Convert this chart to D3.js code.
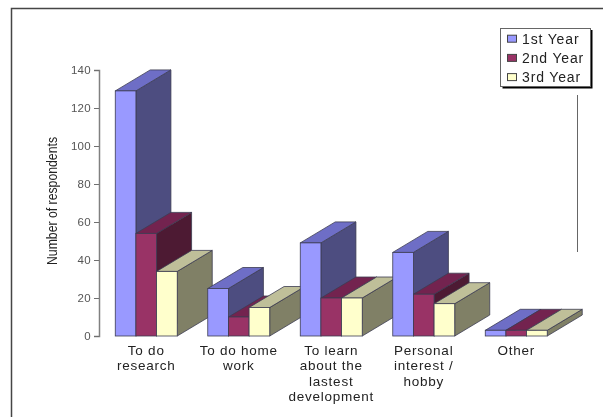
<!DOCTYPE html>
<html><head><meta charset="utf-8">
<script src="https://cdn.jsdelivr.net/npm/d3@7"></script>
<style>html,body{margin:0;padding:0;background:#fff}svg{display:block;font-family:"Liberation Sans",Arial,sans-serif;filter:blur(0.4px)}</style>
</head><body><svg id="c" width="603" height="417"></svg>
<script>
const categories = [["To do","research"],["To do home","work"],["To learn","about the","lastest","development"],["Personal","interest /","hobby"],["Other"]];
const seriesNames = ["1st Year","2nd Year","3rd Year"];
const year1 = [129,25,49,44,3];
const year2 = [54,10,20,22,3];
const year3 = [34,15,20,17,3];
const yTicks = [0,20,40,60,80,100,120,140];
const yTitle = "Number of respondents";
const faceColors = ["#9999ff","#993366","#ffffcc"];
const topColors = ["#6e6ec6","#73234f","#bfbf99"];
const sideColors = ["#4d4d80","#4d1a33","#808066"];

const svg = d3.select("#c");
const x0 = d3.scaleBand().domain(d3.range(categories.length)).range([100,562.5]).paddingInner(0.33).paddingOuter(0.165);
const x1 = d3.scaleBand().domain(d3.range(seriesNames.length)).range([0,x0.bandwidth()]);
const y = d3.scaleLinear().domain([0,140]).range([336,70]);
const depthX = 35, depthY = -21;

// frame
svg.append("path").attr("d","M11.5,417V8.5H603").attr("fill","none").attr("stroke","#454545").attr("stroke-width",1.5);
svg.append("line").attr("x1",577.5).attr("x2",577.5).attr("y1",95).attr("y2",252).attr("stroke","#666");

// y axis
const axisG = svg.append("g").attr("transform","translate(99,0)")
  .call(d3.axisLeft(y).tickValues(yTicks).tickSize(5).tickPadding(3));
axisG.select(".domain").attr("stroke","#808080").attr("stroke-width",1.5);
axisG.selectAll(".tick line").attr("stroke","#707070");
axisG.selectAll("text").attr("fill","#555").style("font-size","11.5px").style("font-family","'Liberation Sans',sans-serif").style("letter-spacing","0.3px");

svg.append("text").attr("transform","translate(57,201) rotate(-90)").attr("text-anchor","middle")
  .attr("font-size",14).attr("fill","#222").attr("textLength",128).attr("lengthAdjust","spacingAndGlyphs").text(yTitle);

// bars
const series = [year1,year2,year3];
categories.forEach((c,i)=>{
  const g = svg.append("g").attr("transform",`translate(${x0(i)},0)`);
  series.forEach((vals,s)=>{
    const l = x1(s), r = l + x1.bandwidth(), t = y(vals[i]), b = y(0);
    const stroke = "#3c3c52";
    g.append("path").attr("d",`M${r},${b}L${r+depthX},${b+depthY}L${r+depthX},${t+depthY}L${r},${t}Z`).attr("fill",sideColors[s]).attr("stroke",stroke).attr("stroke-width",.8);
    g.append("path").attr("d",`M${l},${t}L${l+depthX},${t+depthY}L${r+depthX},${t+depthY}L${r},${t}Z`).attr("fill",topColors[s]).attr("stroke",stroke).attr("stroke-width",.8);
    g.append("rect").attr("x",l).attr("y",t).attr("width",r-l).attr("height",b-t).attr("fill",faceColors[s]).attr("stroke",stroke).attr("stroke-width",.8);
  });
  const label = svg.append("text").attr("text-anchor","middle").attr("fill","#222").attr("font-size",13.5).attr("letter-spacing",0.75);
  c.forEach((line,k)=>label.append("tspan").attr("x",x0(i)+x0.bandwidth()/2).attr("y",355+k*15.4).text(line));
});

// legend
svg.append("rect").attr("x",502.5).attr("y",30).attr("width",90).attr("height",58.5).attr("fill","#000");
svg.append("rect").attr("x",500.5).attr("y",28.5).attr("width",90).attr("height",58).attr("fill","#fff").attr("stroke","#666");
seriesNames.forEach((n,i)=>{
  const ly = 38.7+i*19.2;
  svg.append("rect").attr("x",507.5).attr("y",ly-3.5).attr("width",9).attr("height",7).attr("fill",faceColors[i]).attr("stroke","#444");
  svg.append("text").attr("x",522).attr("y",ly+4.8).attr("font-size",14).attr("letter-spacing",0.85).attr("fill","#222").text(n);
});
</script></body></html>
